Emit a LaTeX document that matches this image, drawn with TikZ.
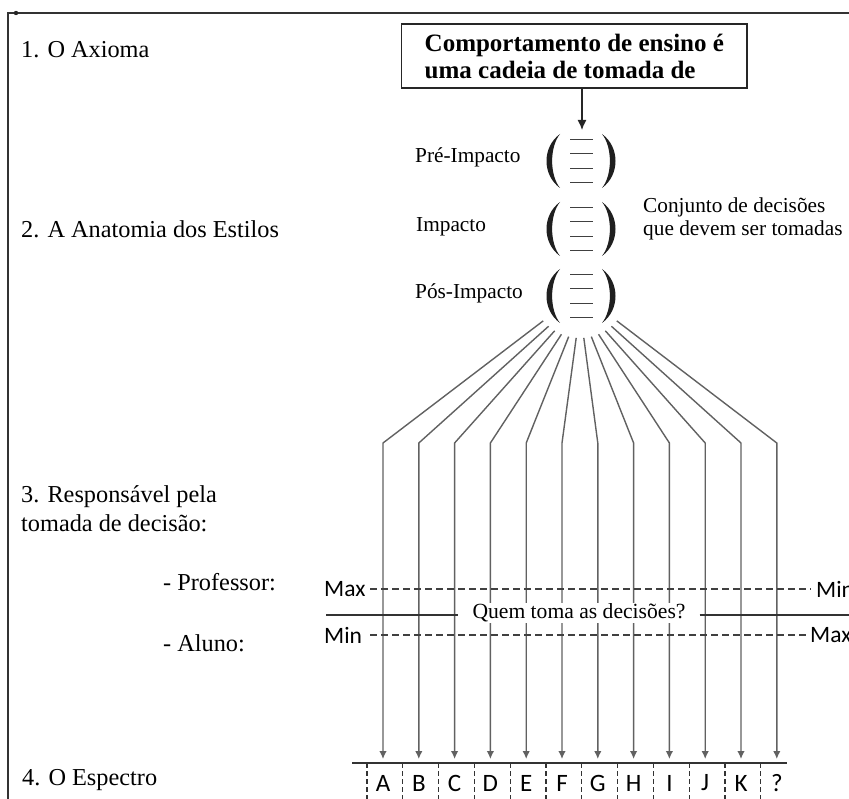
\documentclass[tikz,border=0pt]{standalone}
\usepackage{fontspec}
\setmainfont{Liberation Serif}
\newfontfamily\sansf{Carlito}
\usetikzlibrary{arrows.meta}
\begin{document}
\begin{tikzpicture}[x=1pt,y=-1pt,
  frame/.style={line width=1.4pt, draw=black!80},
  boxst/.style={draw=black!85, line width=1.4pt, font=\bfseries\fontsize{25}{27}\selectfont, align=left, inner xsep=23pt, inner ysep=6pt, minimum height=64pt},
  big/.style={anchor=west, inner sep=0pt, font=\fontsize{24.3}{29}\selectfont, align=left},
  mid/.style={anchor=west, inner sep=0pt, font=\fontsize{21.3}{22.5}\selectfont, align=left},
  sansl/.style={inner sep=0pt, font=\sansf\fontsize{23.5}{25}\selectfont},
  letter/.style={inner sep=0pt, font=\sansf\fontsize{25}{27}\selectfont},
  arr/.style={draw=black!85, line width=1.3pt, -{Latex[length=10pt,width=9pt]}},
  fan/.style={draw=black!62, line width=1.4pt, -{Latex[length=8pt,width=7.5pt]}},
  dsh/.style={draw=black!75, line width=1.1pt, dash pattern=on 6.5pt off 4.5pt},
  sepline/.style={draw=black!80, line width=1.1pt, dash pattern=on 5pt off 3pt},
  solid line/.style={draw=black!80, line width=1.3pt},
  dec/.style={line width=1.3pt, draw=black!75}]
\useasboundingbox (0,0) rectangle (849,799);

% frame
\coordinate (fb) at (8,799);
\coordinate (fc) at (8,13);
\coordinate (fr) at (849,13);
\draw[frame] (fb) -- (fc) -- (fr);
\fill[black!85] (16,13) circle (2.2);

% left labels
\node[big] (l1) at (21,50) {1. O Axioma};
\node[big] (l2) at (21,229) {2. A Anatomia dos Estilos};
\node[big] (l3) at (21,509) {3. Responsável pela\\tomada de decisão:};
\node[big] (prof) at (163,582) {- Professor:};
\node[big] (alu) at (163,643) {- Aluno:};
\node[big] (l4) at (22,780) {4. O Espectro};

% axiom box
\node[boxst, anchor=west] (ax) at (401,56) {Comportamento de ensino é\\uma cadeia de tomada de};
\coordinate (tip) at (582,130);
\draw[arr] (ax.south -| tip) -- (tip);

% anatomy groups
\foreach \c [count=\g] in {161,229,296} {
  \coordinate (g\g) at (581,\c);
  \fill[black!88] (560,\c-27) .. controls (542,\c-14) and (542,\c+14) .. (560,\c+27)
        .. controls (549.5,\c+14) and (549.5,\c-14) .. (560,\c-27) -- cycle;
  \fill[black!88] (602,\c-27) .. controls (620,\c-14) and (620,\c+14) .. (602,\c+27)
        .. controls (612.5,\c+14) and (612.5,\c-14) .. (602,\c-27) -- cycle;
  \foreach \o in {-21.5,-7.2,7.2,21.5}
    \draw[dec] (570,\c+\o) -- (593,\c+\o);
}
\node[mid] (pre) at (415,157) {Pré-Impacto};
\node[mid] (imp) at (416,227) {Impacto};
\node[mid] (pos) at (415,293) {Pós-Impacto};
\node[mid] (conj) at (643,219) {Conjunto de decisões\\que devem ser tomadas};

% fan of connectors
\foreach \i in {0,...,11} {
  \pgfmathsetmacro{\ang}{140-\i*100/11}
  \pgfmathsetmacro{\xx}{383+35.8*\i}
  \coordinate (s\i) at ({580+48*cos(\ang)},{290+48*sin(\ang)});
  \coordinate (b\i) at (\xx,443);
  \coordinate (e\i) at (\xx,759);
  \draw[fan] (s\i) -- (b\i) -- (e\i);
}

% who decides
\node[sansl, anchor=west] (max1) at (324,589) {Max};
\coordinate (d1l) at (370,589);
\coordinate (d1r) at (811,589);
\draw[dsh] (d1l) -- (d1r);
\node[sansl, anchor=west] (min1) at (816,589) {Min};

\node[sansl, anchor=west] (min2) at (324,635) {Min};
\coordinate (d2l) at (370,635);
\coordinate (d2r) at (809,635);
\draw[dsh] (d2l) -- (d2r);
\node[sansl, anchor=west] (max2) at (810,635) {Max};

\node[fill=white, inner xsep=14pt, inner ysep=1pt, font=\fontsize{21.6}{23}\selectfont] (q) at (579,613) {Quem toma as decisões?};
\coordinate (ql) at (326,615);
\coordinate (qr) at (849,615);
\draw[solid line] (ql) -- (q.west |- ql);
\draw[solid line] (q.east |- qr) -- (qr);

% spectrum
\coordinate (axl) at (352,763);
\coordinate (axr) at (787,763);
\draw[solid line] (axl) -- (axr);
\foreach \j in {0,...,11} {
  \pgfmathsetmacro{\sx}{367+35.8*\j}
  \coordinate (t\j) at (\sx,763);
  \coordinate (u\j) at (\sx,799);
  \draw[sepline] (t\j) -- (u\j);
}
\foreach \t [count=\k from 0] in {A,B,C,D,E,F,G,H,I,J,K,?} {
  \pgfmathsetmacro{\lx}{383+35.8*\k}
  \node[letter] (L\k) at (\lx,783) {\t};
}
\end{tikzpicture}
\end{document}
